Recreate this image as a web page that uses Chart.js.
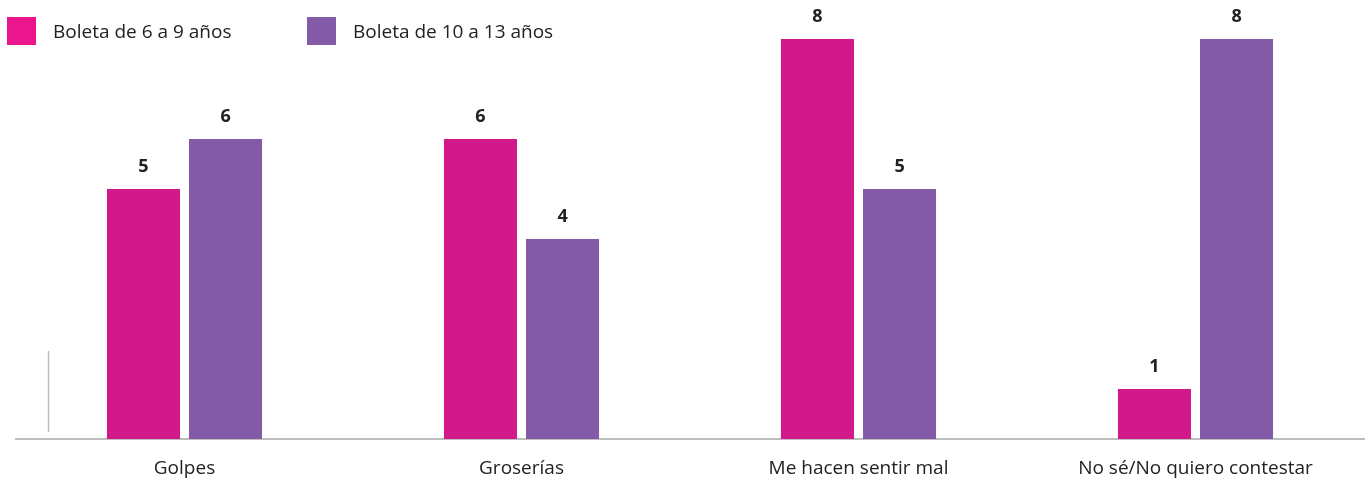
<!DOCTYPE html>
<html><head><meta charset="utf-8">
<script src="https://cdn.jsdelivr.net/npm/chart.js@4.4.1/dist/chart.umd.min.js"></script>
<style>
html,body{margin:0;padding:0;background:#fff;}
#wrap{position:relative;width:1366px;height:485px;}
#legend{position:absolute;left:0;top:0;width:1366px;height:60px;font-family:"Open Sans",sans-serif;font-size:19px;color:#222;}
.item{position:absolute;top:16px;height:29px;display:flex;align-items:center;}
.sw{width:29px;height:28px;margin-right:17px;}
</style></head>
<body>
<div id="wrap">
<canvas id="c" width="1366" height="485"></canvas>
<div id="legend"></div>
</div>
<script>
const categories = ["Golpes","Groserías","Me hacen sentir mal","No sé/No quiero contestar"];
const series1Name = "Boleta de 6 a 9 años";
const series2Name = "Boleta de 10 a 13 años";
const series1 = [5, 6, 8, 1];
const series2 = [6, 4, 5, 8];
const colors = ["#D1198A", "#825AA6"];
const legendColors = ["#EC168C", "#825AA6"];

// legend (HTML)
const lg = document.getElementById('legend');
[[series1Name, legendColors[0], 7], [series2Name, legendColors[1], 307]].forEach(([n, col, x]) => {
  const d = document.createElement('div');
  d.className = 'item'; d.style.left = x + 'px';
  d.innerHTML = '<div class="sw" style="background:' + col + '"></div><span>' + n + '</span>';
  lg.appendChild(d);
});

const labelPlugin = {
  id: 'vals',
  afterDatasetsDraw(chart) {
    const ctx = chart.ctx;
    ctx.save();
    ctx.font = 'bold 18px "Open Sans", sans-serif';
    ctx.fillStyle = '#222';
    ctx.textAlign = 'center';
    ctx.textBaseline = 'alphabetic';
    chart.data.datasets.forEach((ds, i) => {
      chart.getDatasetMeta(i).data.forEach((bar, j) => {
        ctx.fillText(String(Math.round(ds.data[j])), bar.x, bar.y - 17);
      });
    });
    ctx.restore();
  }
};
const tickMark = {
  id: 'tickMark',
  beforeDatasetsDraw(chart) {
    const ctx = chart.ctx, ys = chart.scales.y, area = chart.chartArea;
    ctx.save();
    ctx.strokeStyle = '#bdbdbd';
    ctx.lineWidth = 1.5;
    ctx.beginPath();
    ctx.moveTo(area.left + 32.5, ys.getPixelForValue(1.76));
    ctx.lineTo(area.left + 32.5, ys.getPixelForValue(0.14));
    ctx.stroke();
    ctx.restore();
  }
};

new Chart(document.getElementById('c'), {
  type: 'bar',
  data: {
    labels: categories,
    datasets: [
      {label: series1Name, data: series1, backgroundColor: colors[0], categoryPercentage: 0.487, barPercentage: 0.89},
      {label: series2Name, data: series2, backgroundColor: colors[1], categoryPercentage: 0.487, barPercentage: 0.89}
    ]
  },
  options: {
    responsive: false,
    animation: false,
    layout: {padding: {left: 16, right: 2, top: 39, bottom: 0}},
    plugins: {legend: {display: false}, tooltip: {enabled: false}},
    scales: {
      x: {
        grid: {display: false, drawTicks: false},
        border: {display: true, color: '#bdbdbd', width: 2},
        ticks: {color: '#222', font: {family: '"Open Sans", sans-serif', size: 19}, padding: 18, maxRotation: 0},
        afterFit(s) { s.height = 46; }
      },
      y: {
        display: false,
        min: 0, max: 8
      }
    }
  },
  plugins: [labelPlugin, tickMark]
});
</script>
</body></html>
